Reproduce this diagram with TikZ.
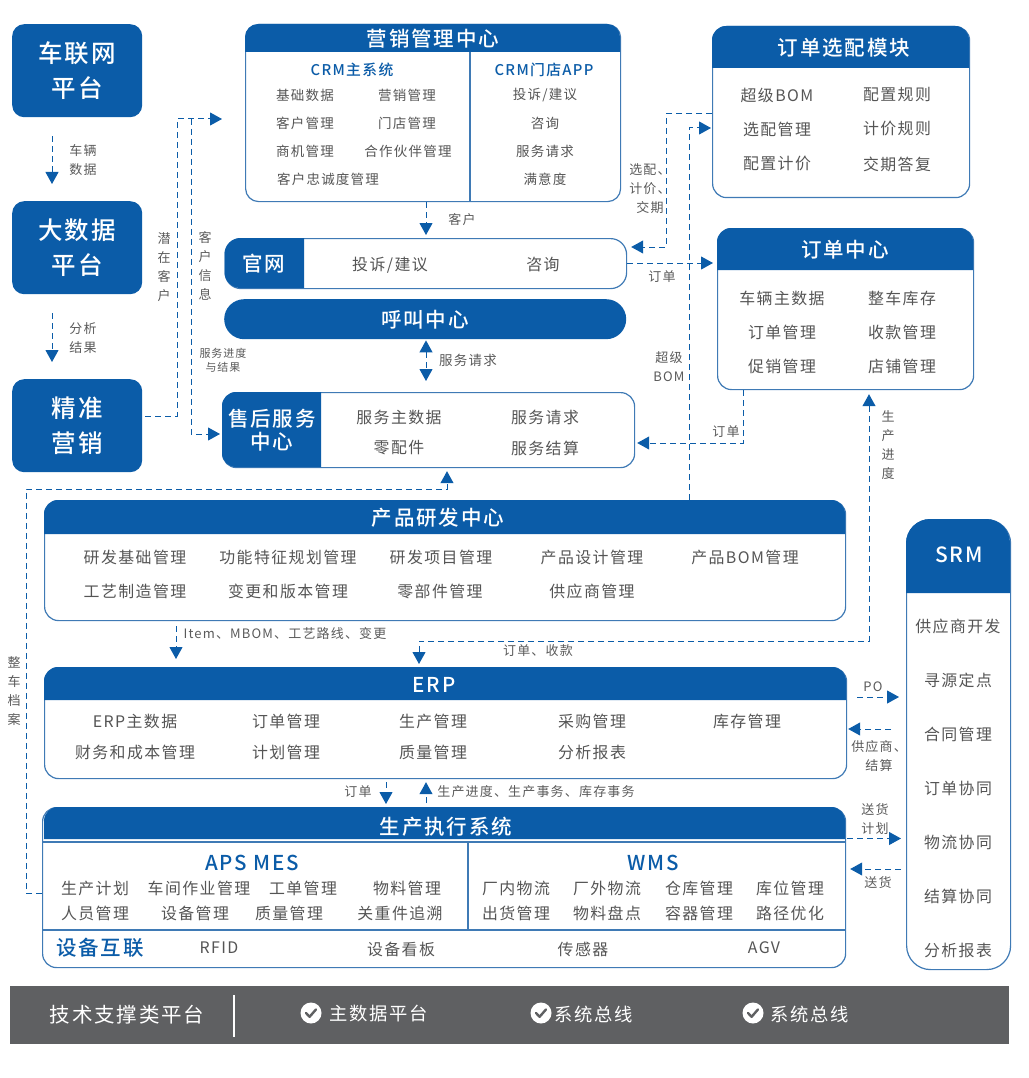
\documentclass[tikz,border=0pt]{standalone}
\usepackage{fontspec}
\setmainfont{Noto Sans CJK SC}[LetterSpace=9]
\newfontfamily\med{Noto Sans CJK SC Medium}[LetterSpace=9]
\usetikzlibrary{arrows.meta,calc}
\definecolor{bl}{HTML}{0B5CA8}
\definecolor{edge}{HTML}{3F7AB5}
\definecolor{txt}{HTML}{555555}
\definecolor{lab}{HTML}{5A5A5A}
\definecolor{bar}{HTML}{5F6062}
\newcounter{tn}
\newcommand\fs[2]{\fontsize{#1}{#2}\selectfont}
\tikzset{
  itemtxt/.style={text=txt,font=\fs{15.9}{18},inner sep=0pt,align=center,yshift=-1pt},
  smalltxt/.style={text=txt,font=\fs{13.5}{18},inner sep=0pt,align=center},
  labeltxt/.style={text=lab,font=\fs{13}{19},inner sep=0pt,align=center},
  headtxt/.style={text=white,font=\fs{20.5}{24}\med,inner sep=0pt,align=center,yshift=-1pt},
  subtxt/.style={text=bl,font=\fs{14.8}{18}\med,inner sep=0pt,align=center},
  bigsub/.style={text=bl,font=\fs{20.5}{24}\med,inner sep=0pt,align=center,yshift=-1pt},
  bartxt/.style={text=white,font=\fs{18.3}{22},inner sep=0pt,align=center,yshift=-1pt},
  frame/.style={draw=edge,line width=1.2pt,fill=white,inner sep=0pt,anchor=north west},
  solidbox/.style={fill=bl,text=white,inner sep=0pt,align=center,anchor=north west,rounded corners=12pt,font=\fs{24.5}{35}\med},
  rule/.style={draw=edge,line width=1.2pt},
  conn/.style={draw=bl,line width=1pt,dash pattern=on 6pt off 4pt},
  tip/.style={-{Triangle[length=12pt,width=13pt]}},
  tips/.style={{Triangle[length=12pt,width=13pt]}-{Triangle[length=12pt,width=13pt]}},
}
% name x1 y1 x2 y2 yh r title-x title
\newcommand\toppanel[9]{%
  \pgfmathsetmacro\pw{#4-#2}\pgfmathsetmacro\ph{#5-#3}%
  \node[frame,rounded corners=#7pt,minimum width=\pw pt,minimum height=\ph pt] (#1) at (#2,#3) {};
  \fill[bl] (#2,#6) [rounded corners=#7pt] -- (#2,#3) -- (#4,#3) [sharp corners] -- (#4,#6) -- cycle;
  \node[headtxt] (#1t) at (#8,{(#3+#6)/2}) {#9};
}
% name x1 y1 x2 y2 xh r
\newcommand\leftpanel[7]{%
  \pgfmathsetmacro\pw{#4-#2}\pgfmathsetmacro\ph{#5-#3}%
  \node[frame,rounded corners=#7pt,minimum width=\pw pt,minimum height=\ph pt] (#1) at (#2,#3) {};
  \fill[bl] (#6,#5) [rounded corners=#7pt] -- (#2,#5) -- (#2,#3) [sharp corners] -- (#6,#3) -- cycle;
}
\newcommand\itm[4][itemtxt]{\stepcounter{tn}\node[#1] (t\thetn) at (#2,#3) {#4};}
\newcommand\chk[3]{%
  \node[circle,fill=white,minimum size=21pt,inner sep=0pt] (#1) at (#2,#3) {};
  \draw[bar,line width=2.4pt,line cap=round,line join=round] ($(#1.center)+(-5,0)$) -- ++(3.6,3.8) -- ++(6.4,-7.4);
}
\begin{document}
\begin{tikzpicture}[x=1pt,y=-1pt]
\useasboundingbox (0,0) rectangle (1028,1078);
% left column
\node[solidbox,minimum width=130pt,minimum height=93pt] (cl) at (12,24) {车联网\\平台};
\node[solidbox,minimum width=130pt,minimum height=93pt] (dsj) at (12,201) {大数据\\平台};
\node[solidbox,minimum width=130pt,minimum height=93pt] (jz) at (12,379) {精准\\营销};
\itm[labeltxt]{83}{160.5}{车辆\\数据}
\itm[labeltxt]{83}{338.5}{分析\\结果}
% marketing
\toppanel{mk}{245}{24}{620}{201}{52}{13}{433}{营销管理中心}
\draw[rule] (470,52) -- (470,201);
\itm[subtxt]{352}{70}{CRM主系统}
\itm[subtxt]{544}{70}{CRM门店APP}
\itm[smalltxt]{305}{95}{基础数据}
\itm[smalltxt]{407}{95}{营销管理}
\itm[smalltxt]{305}{123}{客户管理}
\itm[smalltxt]{407}{123}{门店管理}
\itm[smalltxt]{305}{151}{商机管理}
\itm[smalltxt]{408}{151}{合作伙伴管理}
\itm[smalltxt]{328}{179}{客户忠诚度管理}
\itm[smalltxt]{545}{95}{投诉/建议}
\itm[smalltxt]{545}{123}{咨询}
\itm[smalltxt]{545}{151}{服务请求}
\itm[smalltxt]{545}{179}{满意度}
% website
\leftpanel{gw}{224.5}{238}{626}{288}{304}{16}
\itm[headtxt]{264}{263}{官网}
\itm[itemtxt]{390}{264}{投诉/建议}
\itm[itemtxt]{543}{264}{咨询}
% call centre
\node[fill=bl,rounded corners=20pt,minimum width=402pt,minimum height=40pt,inner sep=0pt,anchor=north west] (hj) at (224,299) {};
\itm[headtxt]{425}{319}{呼叫中心}
% after-sales
\leftpanel{sh}{222}{392}{634}{467}{321}{14}
\itm[headtxt,font=\fs{20.5}{23}\med]{272}{429.5}{售后服务\\中心}
\itm[itemtxt]{399}{416}{服务主数据}
\itm[itemtxt]{399}{447}{零配件}
\itm[itemtxt]{545}{416}{服务请求}
\itm[itemtxt]{545}{447}{服务结算}
% order option
\toppanel{xp}{712}{26}{969}{197}{68}{14}{844}{订单选配模块}
\itm[itemtxt]{777}{94}{超级BOM}
\itm[itemtxt]{777}{128}{选配管理}
\itm[itemtxt]{777}{163}{配置计价}
\itm[itemtxt]{897}{94}{配置规则}
\itm[itemtxt]{897}{128}{计价规则}
\itm[itemtxt]{897}{163}{交期答复}
% order centre
\toppanel{dd}{717}{228}{973}{389}{270}{14}{845}{订单中心}
\itm[itemtxt]{782}{297}{车辆主数据}
\itm[itemtxt]{782}{331}{订单管理}
\itm[itemtxt]{782}{365}{促销管理}
\itm[itemtxt]{902}{297}{整车库存}
\itm[itemtxt]{902}{331}{收款管理}
\itm[itemtxt]{902}{365}{店铺管理}
% product R&D
\toppanel{cp}{44}{500}{845}{620}{534}{14}{438}{产品研发中心}
\itm[itemtxt]{135}{556}{研发基础管理}
\itm[itemtxt]{288}{556}{功能特征规划管理}
\itm[itemtxt]{441}{556}{研发项目管理}
\itm[itemtxt]{592}{556}{产品设计管理}
\itm[itemtxt]{745}{556}{产品BOM管理}
\itm[itemtxt]{135}{590}{工艺制造管理}
\itm[itemtxt]{288}{590}{变更和版本管理}
\itm[itemtxt]{440}{590}{零部件管理}
\itm[itemtxt]{592}{590}{供应商管理}
% ERP
\toppanel{erp}{44}{667}{846}{778}{700}{14}{434}{ERP}
\itm[itemtxt]{135}{720}{ERP主数据}
\itm[itemtxt]{135}{751}{财务和成本管理}
\itm[itemtxt]{286}{720}{订单管理}
\itm[itemtxt]{286}{751}{计划管理}
\itm[itemtxt]{433}{720}{生产管理}
\itm[itemtxt]{433}{751}{质量管理}
\itm[itemtxt]{592}{720}{采购管理}
\itm[itemtxt]{592}{751}{分析报表}
\itm[itemtxt]{747}{720}{库存管理}
% MES
\node[frame,rounded corners=14pt,minimum width=803pt,minimum height=160pt] (mes) at (42,807) {};
\fill[bl] (44,839) [rounded corners=14pt] -- (44,807) -- (845,807) [sharp corners] -- (845,839) -- cycle;
\node[headtxt] (mest) at (446,826) {生产执行系统};
\draw[rule] (42,842) -- (845,842);
\draw[rule] (468,842) -- (468,930);
\draw[rule] (42,930) -- (845,930);
\itm[bigsub]{252}{862}{APS MES}
\itm[bigsub]{653}{862}{WMS}
\itm[itemtxt]{95}{887}{生产计划}
\itm[itemtxt]{199}{887}{车间作业管理}
\itm[itemtxt]{303}{887}{工单管理}
\itm[itemtxt]{407}{887}{物料管理}
\itm[itemtxt]{95}{912}{人员管理}
\itm[itemtxt]{195}{912}{设备管理}
\itm[itemtxt]{289}{912}{质量管理}
\itm[itemtxt]{400}{912}{关重件追溯}
\itm[itemtxt]{516}{887}{厂内物流}
\itm[itemtxt]{607}{887}{厂外物流}
\itm[itemtxt]{699}{887}{仓库管理}
\itm[itemtxt]{790}{887}{库位管理}
\itm[itemtxt]{516}{912}{出货管理}
\itm[itemtxt]{607}{912}{物料盘点}
\itm[itemtxt]{699}{912}{容器管理}
\itm[itemtxt]{790}{912}{路径优化}
\node[bigsub] (sb) at (100,947) {设备互联};
\itm[itemtxt]{219}{947}{RFID}
\itm[itemtxt]{401}{948}{设备看板}
\itm[itemtxt]{583}{948}{传感器}
\itm[itemtxt]{764}{947}{AGV}
% SRM
\node[frame,rounded corners=24pt,minimum width=104pt,minimum height=450pt] (srm) at (906,519) {};
\fill[bl] (906,593) [rounded corners=24pt] -- (906,519) -- (1010,519) [sharp corners] -- (1010,593) -- cycle;
\node[headtxt,font=\fs{21}{24}\med] (srmt) at (959,554) {SRM};
\itm[itemtxt]{958}{625}{供应商开发}
\itm[itemtxt]{958}{679}{寻源定点}
\itm[itemtxt]{958}{733}{合同管理}
\itm[itemtxt]{958}{787}{订单协同}
\itm[itemtxt]{958}{841}{物流协同}
\itm[itemtxt]{958}{895}{结算协同}
\itm[itemtxt]{958}{949}{分析报表}
% bottom bar
\node[fill=bar,minimum width=999pt,minimum height=58pt,inner sep=0pt,anchor=north west] (bb) at (10,986) {};
\node[bartxt,font=\fs{20.5}{24}] (bt) at (127,1014) {技术支撑类平台};
\draw[white,line width=2pt] (234,995) -- (234,1037);
\chk{c1}{311}{1013}
\node[bartxt] (b1) at (379,1013) {主数据平台};
\chk{c2}{541}{1013}
\node[bartxt] (b2) at (594,1013) {系统总线};
\chk{c3}{753}{1013}
\node[bartxt] (b3) at (810,1013) {系统总线};
% connectors
\draw[conn,tip,shorten <=19pt,shorten >=17pt] (cl.south -| 52,0) -- (dsj.north -| 52,0);
\draw[conn,tip,shorten <=19pt,shorten >=17pt] (dsj.south -| 52,0) -- (jz.north -| 52,0);
\draw[conn,tip,shorten <=3pt,shorten >=23pt] (jz.east |- 0,416) -- (177,416) -- (177,119) -- (mk.west |- 0,119);
\itm[labeltxt]{164}{267}{潜\\在\\客\\户}
\draw[conn,tip,shorten >=2pt] (191,119) -- (191,434) -- (sh.west |- 0,434);
\itm[labeltxt]{205}{266}{客\\户\\信\\息}
\itm[labeltxt,font=\fs{11}{14}]{223}{360}{服务进度\\与结果}
\draw[conn,tip,shorten >=3pt] (mk.south -| 426,0) -- (gw.north -| 426,0);
\itm[labeltxt]{462}{220}{客户}
\draw[conn,tips,shorten <=1pt,shorten >=11pt] (hj.south -| 426,0) -- (sh.north -| 426,0);
\itm[labeltxt,font=\fs{13.5}{18}]{468}{360}{服务请求}
\draw[conn,tip,shorten >=4pt] (xp.west |- 0,114) -- (666,114) -- (666,247) -- (gw.east |- 0,247);
\itm[labeltxt]{650}{189}{选配、\\计价、\\交期}
\draw[conn,tip,shorten >=1pt] (cp.north -| 689,0) -- (689,128) -- (xp.west |- 0,128);
\itm[labeltxt]{669}{366.5}{超级\\BOM}
\draw[conn,tip,shorten >=4pt] (gw.east |- 0,263) -- (dd.west |- 0,263);
\itm[labeltxt]{662}{277}{订单}
\draw[conn,tip,shorten >=2pt] (dd.south -| 743,0) -- (743,443) -- (sh.east |- 0,443);
\itm[labeltxt]{726}{432}{订单}
\draw[conn,tips,shorten <=4pt,shorten >=3pt] (dd.south -| 869,0) -- (869,641) -- (419,641) -- (erp.north -| 419,0);
\itm[labeltxt]{888}{445}{生\\产\\进\\度}
\itm[labeltxt]{538}{651}{订单、收款}
\draw[conn,tip,shorten >=3pt] (mes.west |- 0,893) -- (26,893) -- (26,489) -- (447,489) -- (sh.south -| 447,0);
\itm[labeltxt]{14}{691.5}{整\\车\\档\\案}
\draw[conn,tip,shorten <=5pt,shorten >=8pt] (cp.south -| 176,0) -- (erp.north -| 176,0);
\itm[labeltxt]{285}{634}{Item、MBOM、工艺路线、变更}
\draw[conn,tip,shorten <=3pt,shorten >=3pt] (erp.south -| 386,0) -- (mes.north -| 386,0);
\itm[labeltxt]{358}{792}{订单}
\draw[conn,tip,shorten <=4pt,shorten >=3pt] (mes.north -| 426,0) -- (erp.south -| 426,0);
\itm[labeltxt]{536}{792}{生产进度、生产事务、库存事务}
\draw[conn,tip,shorten <=10pt,shorten >=7pt] (erp.east |- 0,697) -- (srm.west |- 0,697);
\itm[labeltxt]{873}{687}{PO}
\draw[conn,tip,shorten <=15pt,shorten >=1pt] (srm.west |- 0,729) -- (erp.east |- 0,729);
\itm[labeltxt]{879}{756.5}{供应商、\\结算}
\draw[conn,tip,shorten <=1pt,shorten >=5pt] (mes.east |- 0,838.5) -- (srm.west |- 0,838.5);
\itm[labeltxt]{875}{819.5}{送货\\计划}
\draw[conn,tip,shorten <=5pt,shorten >=4pt] (srm.west |- 0,869) -- (mes.east |- 0,869);
\itm[labeltxt]{878}{883}{送货}
\end{tikzpicture}
\end{document}
